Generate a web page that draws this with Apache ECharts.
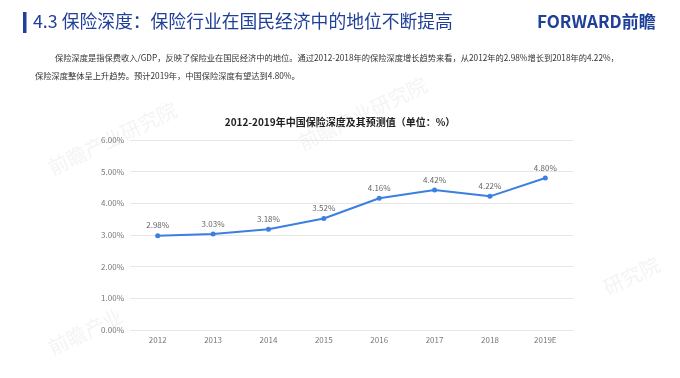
<!DOCTYPE html>
<html>
<head>
    <meta charset="utf-8">
    <title>保险深度</title>
    <script src="https://cdn.jsdelivr.net/npm/echarts@6/dist/echarts.min.js"></script>
    <style>
        html, body { margin: 0; padding: 0; background: #fff; }
        #chart1 { width: 680px; height: 378px; }
    </style>
</head>
<body>
<div id="chart1"></div>
<script type="text/javascript">
    // 数据
    var years = ['2012', '2013', '2014', '2015', '2016', '2017', '2018', '2019E'];
    var depth = [2.98, 3.03, 3.18, 3.52, 4.16, 4.42, 4.22, 4.80];
    var yTicks = [0, 1, 2, 3, 4, 5, 6];

    var font = '"Noto Sans CJK SC", "Noto Sans", sans-serif';
    var wm = '#f4f4f4'; // 水印颜色
    var myChart1 = echarts.init(document.getElementById('chart1'));
    myChart1.setOption({
        backgroundColor: '#fff',
        textStyle: { fontFamily: font },
        title: {
            text: '2012-2019年中国保险深度及其预测值（单位：%）',
            left: 'center',
            top: 112,
            textStyle: { fontSize: 10, fontWeight: 'bold', color: '#222', fontFamily: font }
        },
        graphic: [
            // 水印
            { type: 'text', x: 45, y: 160, rotation: Math.PI / 7, z: -1, style: { text: '前瞻产业研究院', fill: wm, font: '20px ' + font } },
            { type: 'text', x: 295, y: 135, rotation: Math.PI / 7, z: -1, style: { text: '前瞻产业研究院', fill: wm, font: '20px ' + font } },
            { type: 'text', x: 600, y: 280, rotation: Math.PI / 7, z: -1, style: { text: '研究院', fill: wm, font: '20px ' + font } },
            { type: 'text', x: 45, y: 340, rotation: Math.PI / 7, z: -1, style: { text: '前瞻产业', fill: wm, font: '20px ' + font } },
            // 页眉
            { type: 'rect', shape: { x: 23, y: 12, width: 3.5, height: 21 }, style: { fill: '#1f3f99' } },
            { type: 'text', left: 33, top: 12, style: { text: '4.3 保险深度：保险行业在国民经济中的地位不断提高', fill: '#1f3f99', font: '17.8px ' + font } },
            { type: 'text', left: 537, top: 13, style: { text: 'FORWARD前瞻', fill: '#1f3f99', font: 'bold 17px ' + font } },
            { type: 'text', left: 55, top: 54, style: { text: '保险深度是指保费收入/GDP，反映了保险业在国民经济中的地位。通过2012-2018年的保险深度增长趋势来看，从2012年的2.98%增长到2018年的4.22%，', fill: '#333', font: '8.25px ' + font } },
            { type: 'text', left: 35, top: 72, style: { text: '保险深度整体呈上升趋势。预计2019年，中国保险深度有望达到4.80%。', fill: '#333', font: '8.25px ' + font } }
        ],
        grid: { left: 130, right: 107, top: 140, bottom: 48 },
        xAxis: {
            type: 'category',
            data: years,
            axisLine: { show: false },
            axisTick: { show: false },
            axisLabel: { color: '#777', fontSize: 8, margin: 6 }
        },
        yAxis: {
            type: 'value',
            min: yTicks[0],
            max: yTicks[yTicks.length - 1],
            interval: 1,
            axisLine: { show: false },
            axisTick: { show: false },
            axisLabel: { color: '#777', fontSize: 8, margin: 6, formatter: function (v) { return v.toFixed(2) + '%'; } },
            splitLine: { lineStyle: { color: '#e6e6e6', width: 1 } }
        },
        series: [{
            name: '保险深度',
            type: 'line',
            data: depth,
            symbol: 'circle',
            symbolSize: 5,
            lineStyle: { color: '#3b7fe0', width: 2 },
            itemStyle: { color: '#3b7fe0' },
            label: {
                show: true,
                position: 'top',
                distance: 4,
                color: '#666',
                fontSize: 8,
                formatter: function (p) { return p.value.toFixed(2) + '%'; }
            }
        }]
    });
</script>
</body>
</html>
